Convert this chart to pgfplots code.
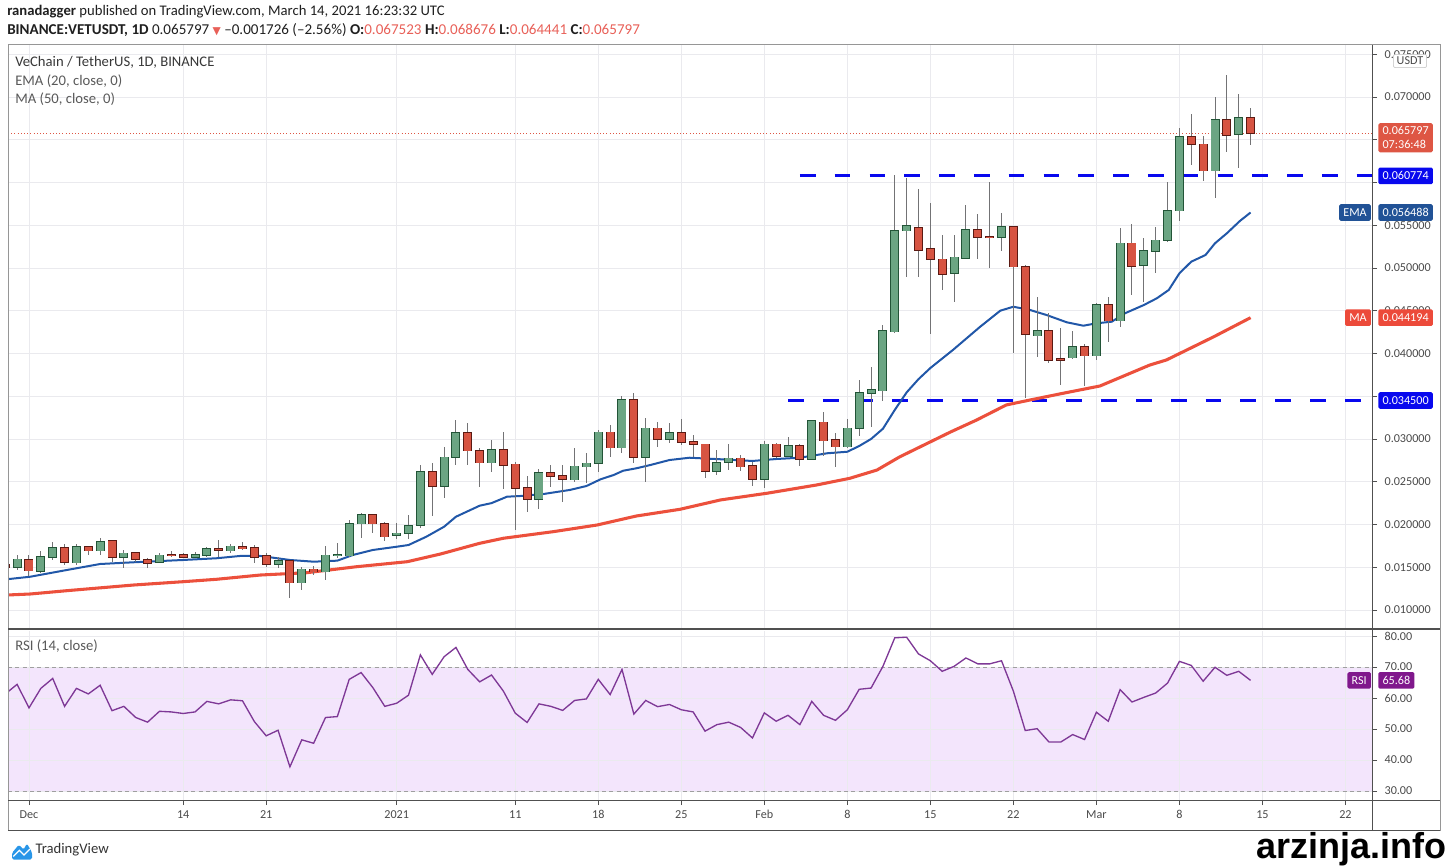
\documentclass[border=0pt]{standalone}
\usepackage{pgfplots}
\pgfplotsset{compat=1.18}
\usepackage{pgfplotstable}
\usepackage{fontspec}
\setmainfont{Carlito}
\newfontfamily\dejavu{DejaVu Sans}
\newfontfamily\wmfont{Liberation Sans}
\definecolor{gfill}{RGB}{107,165,131}
\definecolor{gline}{RGB}{34,84,55}
\definecolor{rfill}{RGB}{215,84,66}
\definecolor{rline}{RGB}{91,26,19}
\definecolor{wick}{RGB}{115,115,117}
\definecolor{emac}{RGB}{33,87,168}
\definecolor{mac}{RGB}{236,80,60}
\definecolor{lvl}{RGB}{8,8,238}
\definecolor{rsic}{RGB}{126,56,150}
\definecolor{rsiband}{RGB}{243,229,252}
\definecolor{gridc}{RGB}{234,234,238}
\definecolor{txt}{RGB}{74,74,74}
\definecolor{hred}{RGB}{232,96,88}
\definecolor{pricebox}{RGB}{222,86,68}
\definecolor{emabox}{RGB}{33,82,150}
\definecolor{mabox}{RGB}{236,74,58}
\definecolor{rsibox}{RGB}{128,24,140}
\definecolor{tvblue}{RGB}{41,150,232}
\definecolor{framec}{RGB}{150,150,150}
\definecolor{darkc}{RGB}{80,80,80}

\pgfplotstableread{
d O H L C
-1 0.01499 0.01643 0.01468 0.01593
1 0.01456 0.01694 0.01429 0.01623
2 0.01616 0.01792 0.01585 0.01722
4 0.01553 0.01772 0.01526 0.01740
6 0.01694 0.01846 0.01643 0.01799
8 0.01623 0.01702 0.01488 0.01663
11 0.01558 0.01663 0.01546 0.01640
14 0.01623 0.01682 0.01605 0.01643
15 0.01640 0.01733 0.01616 0.01713
17 0.01694 0.01768 0.01670 0.01745
21 0.01538 0.01623 0.01488 0.01577
23 0.01319 0.01506 0.01234 0.01476
25 0.01448 0.01749 0.01351 0.01640
26 0.01640 0.01787 0.01605 0.01645
27 0.01635 0.02053 0.01623 0.02009
28 0.02009 0.02131 0.01846 0.02108
31 0.01874 0.02014 0.01827 0.01897
32 0.01897 0.02111 0.01827 0.01986
33 0.01994 0.02696 0.01956 0.02618
35 0.02450 0.02903 0.02306 0.02786
36 0.02786 0.03222 0.02696 0.03074
39 0.02723 0.02988 0.02611 0.02875
43 0.02295 0.02646 0.02178 0.02602
46 0.02524 0.02891 0.02500 0.02681
47 0.02676 0.02833 0.02489 0.02716
48 0.02716 0.03105 0.02618 0.03078
50 0.02898 0.03503 0.02833 0.03456
52 0.02786 0.03249 0.02500 0.03125
54 0.02996 0.03191 0.02950 0.03067
58 0.02626 0.02877 0.02582 0.02725
59 0.02734 0.02938 0.02637 0.02774
62 0.02529 0.02977 0.02423 0.02938
64 0.02801 0.03027 0.02793 0.02918
66 0.02763 0.03222 0.02754 0.03211
69 0.02910 0.03230 0.02891 0.03125
70 0.03125 0.03690 0.03035 0.03535
71 0.03535 0.03846 0.03144 0.03573
72 0.03565 0.04333 0.03448 0.04260
73 0.04255 0.06088 0.04236 0.05436
74 0.05436 0.06049 0.04898 0.05491
78 0.04938 0.05386 0.04606 0.05125
79 0.05120 0.05737 0.05102 0.05444
82 0.05359 0.05640 0.05202 0.05483
85 0.04208 0.04664 0.03963 0.04267
88 0.03951 0.04263 0.03932 0.04073
90 0.03974 0.04590 0.03920 0.04567
92 0.04384 0.05464 0.04306 0.05289
94 0.05035 0.05347 0.04606 0.05199
95 0.05199 0.05483 0.04938 0.05324
96 0.05324 0.06009 0.05308 0.05670
97 0.05670 0.06634 0.05553 0.06536
100 0.06138 0.06996 0.05815 0.06731
102 0.06567 0.07035 0.06173 0.06752
}\greenc

\pgfplotstableread{
d O H L C
-2 0.01526 0.01550 0.01480 0.01503
0 0.01585 0.01643 0.01398 0.01460
3 0.01725 0.01772 0.01526 0.01558
5 0.01740 0.01752 0.01643 0.01694
7 0.01804 0.01819 0.01565 0.01623
9 0.01670 0.01682 0.01565 0.01593
10 0.01588 0.01605 0.01488 0.01550
12 0.01643 0.01694 0.01616 0.01636
13 0.01643 0.01663 0.01612 0.01623
16 0.01717 0.01819 0.01616 0.01702
18 0.01740 0.01799 0.01702 0.01717
19 0.01729 0.01760 0.01546 0.01623
20 0.01632 0.01663 0.01499 0.01538
22 0.01577 0.01585 0.01144 0.01319
24 0.01476 0.01518 0.01409 0.01448
29 0.02108 0.02111 0.01897 0.02009
30 0.02006 0.02033 0.01811 0.01857
34 0.02618 0.02723 0.02099 0.02450
37 0.03074 0.03191 0.02696 0.02863
38 0.02863 0.02891 0.02435 0.02723
40 0.02875 0.03085 0.02412 0.02699
41 0.02704 0.02734 0.01936 0.02430
42 0.02430 0.02567 0.02150 0.02295
44 0.02606 0.02696 0.02435 0.02564
45 0.02567 0.02692 0.02267 0.02529
49 0.03078 0.03164 0.02786 0.02898
51 0.03456 0.03535 0.02723 0.02786
53 0.03125 0.03195 0.02910 0.02996
55 0.03067 0.03234 0.02930 0.02968
56 0.02968 0.03047 0.02793 0.02942
57 0.02938 0.02940 0.02547 0.02626
60 0.02774 0.02813 0.02626 0.02676
61 0.02684 0.02734 0.02450 0.02529
63 0.02938 0.02957 0.02781 0.02801
65 0.02918 0.02942 0.02684 0.02763
67 0.03195 0.03312 0.02801 0.02980
68 0.02988 0.03074 0.02669 0.02910
75 0.05471 0.05920 0.04891 0.05211
76 0.05222 0.05757 0.04228 0.05102
77 0.05102 0.05386 0.04743 0.04926
80 0.05444 0.05628 0.05102 0.05359
81 0.05363 0.06009 0.04996 0.05355
83 0.05483 0.05495 0.04002 0.05015
84 0.05015 0.05035 0.03476 0.04225
86 0.04267 0.04470 0.03885 0.03924
87 0.03939 0.04302 0.03632 0.03924
89 0.04073 0.04111 0.03620 0.03974
91 0.04567 0.04657 0.04138 0.04384
93 0.05289 0.05515 0.04684 0.05023
98 0.06536 0.06801 0.06205 0.06447
99 0.06447 0.06544 0.06021 0.06138
101 0.06731 0.07257 0.06360 0.06556
103 0.067523 0.068676 0.064441 0.065797
}\redc

\pgfplotsset{
  candlewick/.style={draw=none, mark=none, forget plot,
    error bars/y dir=both, error bars/y explicit, error bars/error mark=none,
    error bars/error bar style={line width=0.75pt, draw=wick, line cap=butt}},
  candlebody/.style 2 args={draw=none, mark=none, forget plot,
    error bars/y dir=both, error bars/y explicit, error bars/error mark=none,
    error bars/error bar style={line width=#1, draw=#2, line cap=butt}},
}

\tikzset{box/.style={text=white, font=\fontsize{9.1}{10.5}\selectfont, inner xsep=3.2pt, inner ysep=3pt, rounded corners=1.2pt, text height=6.3pt, text depth=0.2pt}}

\begin{document}
\begin{tikzpicture}
\path (0,0) rectangle (1086pt,650.25pt);

% ---------------- main price panel ----------------
\begin{axis}[
  at={(6pt,179.25pt)}, anchor=south west, scale only axis,
  width=1023pt, height=437.25pt,
  xmin=-1.77, xmax=113.24, ymin=0.007895, ymax=0.076082,
  axis line style={draw=none},
  xtick={0,13,20,31,41,48,55,62,69,76,83,90,97,104,111}, xticklabels={},
  xtick style={draw=none},
  ytick={0.010,0.015,0.020,0.025,0.030,0.035,0.040,0.045,0.050,0.055,0.060,0.065,0.070,0.075},
  yticklabels={0.010000,0.015000,0.020000,0.025000,0.030000,,0.040000,0.045000,0.050000,0.055000,,,0.070000,0.075000},
  scaled y ticks=false,
  yticklabel pos=right, ytick pos=right,
  tick align=outside, major tick length=3.75pt,
  ytick style={draw=darkc, line width=0.6pt},
  grid=major, major grid style={draw=gridc, line width=0.6pt},
  ticklabel style={font=\fontsize{9.1}{11}\selectfont, text=txt},
  yticklabel style={anchor=west, xshift=4.5pt, inner sep=1pt},
]
% current price dotted line
\addplot[pricebox, line width=0.6pt, dash pattern=on 0.8pt off 1.6pt, forget plot] coordinates {(-1.77,0.065797) (113.24,0.065797)};
% support / resistance
\addplot[lvl, line width=2.25pt, dash pattern=on 11.8pt off 14.3pt, forget plot] coordinates {(65,0.060774) (113.3,0.060774)};
\addplot[lvl, line width=2.25pt, dash pattern=on 11.8pt off 14.3pt, forget plot] coordinates {(64,0.0345) (113.3,0.0345)};
% MA 50
\addplot[mac, line width=2.3pt, forget plot] coordinates {
(-1.9,0.01175) (0.1,0.01187) (3.2,0.01226) (8.8,0.01292) (13,0.01331) (15.8,0.01359) (19.5,0.01409) (23.4,0.01436) (27.6,0.01506) (31.9,0.01565) (34.7,0.01655) (38,0.01780) (40,0.01839) (44.2,0.01916) (47.9,0.01994) (51.2,0.02099) (54.9,0.02178) (58.3,0.02287) (62.2,0.02365) (66.4,0.02462) (69.2,0.02540) (71.5,0.02637) (73.4,0.02790) (77.7,0.03082) (79.9,0.03222) (82.4,0.03398) (84.4,0.03456) (87.2,0.03535) (90.3,0.03620) (94.5,0.03865) (95.9,0.03924) (99.9,0.04196) (103,0.04419)};
% EMA 20
\addplot[emac, line width=1.5pt, forget plot] coordinates {
(-1.9,0.01359) (0.1,0.01389) (3.2,0.01468) (6,0.01538) (8.8,0.01558) (13,0.01585) (15.8,0.01605) (17.8,0.01632) (19.5,0.01632) (22,0.01585) (24,0.01565) (26,0.01577) (27.3,0.01643) (29,0.01702) (31,0.01740) (32,0.01760) (33.5,0.01857) (35,0.01974) (36,0.02091) (38,0.02220) (39,0.02250) (40.3,0.02325) (41.4,0.02333) (43.4,0.02357) (45.6,0.02404) (47,0.02450) (48.2,0.02529) (49.3,0.02579) (50.1,0.02629) (51.2,0.02657) (52.4,0.02696) (54,0.02754) (55.7,0.02781) (58.3,0.02763) (61,0.02743) (63,0.02766) (65,0.02781) (67.3,0.02833) (69,0.02851) (70,0.02918) (71,0.03000) (72,0.03120) (73,0.03340) (74,0.03545) (75,0.03700) (76,0.03830) (77.9,0.04041) (80.2,0.04313) (81.9,0.04501) (83,0.04547) (84.4,0.04509) (85.8,0.04450) (87.5,0.04365) (88.9,0.04325) (90,0.04353) (91.3,0.04372) (92.4,0.04470) (94,0.04567) (95.1,0.04646) (96.1,0.04743) (97,0.04938) (98,0.05074) (99.2,0.05152) (100,0.05289) (101,0.05406) (102.1,0.05550) (103,0.05649)};
% candles: wicks
\addplot[candlewick] table[x=d, y expr={0.5*(\thisrow{H}+\thisrow{L})}, y error expr={0.5*(\thisrow{H}-\thisrow{L})}] {\greenc};
\addplot[candlewick] table[x=d, y expr={0.5*(\thisrow{H}+\thisrow{L})}, y error expr={0.5*(\thisrow{H}-\thisrow{L})}] {\redc};
% bodies
\addplot[candlebody={6.75pt}{gline}] table[x=d, y expr={0.5*(\thisrow{O}+\thisrow{C})}, y error expr={0.5*abs(\thisrow{C}-\thisrow{O})+0.00009}] {\greenc};
\addplot[candlebody={5.3pt}{gfill}] table[x=d, y expr={0.5*(\thisrow{O}+\thisrow{C})}, y error expr={0.5*abs(\thisrow{C}-\thisrow{O})}] {\greenc};
\addplot[candlebody={6.75pt}{rline}] table[x=d, y expr={0.5*(\thisrow{O}+\thisrow{C})}, y error expr={0.5*abs(\thisrow{C}-\thisrow{O})+0.00009}] {\redc};
\addplot[candlebody={5.3pt}{rfill}] table[x=d, y expr={0.5*(\thisrow{O}+\thisrow{C})}, y error expr={0.5*abs(\thisrow{C}-\thisrow{O})}] {\redc};
\coordinate (cP) at (axis cs:113.24,0.065797);
\coordinate (cR1) at (axis cs:113.24,0.060774);
\coordinate (cE) at (axis cs:113.24,0.056488);
\coordinate (cM) at (axis cs:113.24,0.044194);
\coordinate (cR2) at (axis cs:113.24,0.0345);
\end{axis}

% ---------------- RSI panel ----------------
\begin{axis}[
  at={(6pt,50.25pt)}, anchor=south west, scale only axis,
  width=1023pt, height=126.75pt,
  xmin=-1.77, xmax=113.24, ymin=27.1, ymax=81.6,
  set layers,
  axis line style={draw=none},
  xtick={0,13,20,31,41,48,55,62,69,76,83,90,97,104,111},
  xticklabels={Dec,14,21,2021,11,18,25,Feb,8,15,22,Mar,8,15,22},
  xtick pos=bottom,
  ytick={30,40,50,60,70,80},
  yticklabels={30.00,40.00,50.00,60.00,70.00,80.00},
  yticklabel pos=right, ytick pos=right,
  tick align=outside, major tick length=3.75pt,
  tick style={draw=darkc, line width=0.6pt},
  grid=major, major grid style={draw=gridc, line width=0.6pt},
  ticklabel style={font=\fontsize{9.1}{11}\selectfont, text=txt},
  yticklabel style={anchor=west, xshift=4.5pt, inner sep=1pt},
  xticklabel style={anchor=center, yshift=-7pt},
]
\addplot[fill=rsiband, draw=none, on layer=axis background, forget plot] coordinates {(-1.77,30) (113.24,30) (113.24,70) (-1.77,70)} -- cycle;
\addplot[draw=gray!75, line width=0.6pt, dash pattern=on 3pt off 2.5pt, forget plot] coordinates {(-1.77,70) (113.24,70)};
\addplot[draw=gray!75, line width=0.6pt, dash pattern=on 3pt off 2.5pt, forget plot] coordinates {(-1.77,30) (113.24,30)};
\addplot[rsic, line width=1.0pt, forget plot] coordinates {
(-2,61.3) (-1,64.4) (0,56.8) (1,63.1) (2,66.3) (3,57.3) (4,63.1) (5,61.3) (6,64.1) (7,55.9) (8,57.3) (9,53.7) (10,52.2) (11,55.7) (12,55.5) (13,55.0) (14,55.5) (15,58.9) (16,58.1) (17,59.4) (18,59.1) (19,52.4) (20,47.8) (21,49.6) (22,37.8) (23,46.5) (24,45.4) (25,53.7) (26,54.0) (27,66.0) (28,68.2) (29,63.3) (30,57.3) (31,58.3) (32,60.9) (33,73.9) (34,67.6) (35,73.3) (36,76.3) (37,69.2) (38,65.2) (39,67.4) (40,62.2) (41,55.1) (42,52.1) (43,58.1) (44,57.3) (45,56.0) (46,59.2) (47,59.7) (48,66.0) (49,61.1) (50,69.2) (51,54.8) (52,59.2) (53,57.2) (54,57.9) (55,56.2) (56,55.5) (57,49.3) (58,51.4) (59,52.2) (60,50.5) (61,47.1) (62,55.2) (63,52.5) (64,54.4) (65,51.4) (66,58.9) (67,54.4) (68,52.8) (69,56.2) (70,62.8) (71,63.2) (72,70.2) (73,79.4) (74,79.6) (75,74.2) (76,72.0) (77,68.6) (78,70.2) (79,72.9) (80,71.0) (81,71.0) (82,72.0) (83,62.2) (84,49.5) (85,50.1) (86,45.8) (87,45.8) (88,48.2) (89,46.6) (90,55.4) (91,52.5) (92,62.7) (93,58.7) (94,60.2) (95,61.6) (96,64.8) (97,71.8) (98,70.5) (99,65.4) (100,69.9) (101,67.3) (102,68.6) (103,65.68)};
\coordinate (cRSI) at (axis cs:113.24,65.68);
\end{axis}

% ---------------- frame ----------------
\draw[framec, line width=0.75pt] (6pt,27.75pt) rectangle (1080pt,616.5pt);
\draw[darkc, line width=0.75pt] (1029pt,27.75pt) -- (1029pt,616.5pt);
\draw[darkc, line width=1.3pt] (6pt,178.3pt) -- (1080pt,178.3pt);
\draw[darkc, line width=0.75pt] (6pt,50.25pt) -- (1080pt,50.25pt);
\draw[darkc, line width=0.75pt] (6pt,27.75pt) -- (1080pt,27.75pt);

% ---------------- right labels ----------------
\node[draw=gray!50, fill=white, text=txt, rounded corners=1.5pt, inner xsep=2.5pt, inner ysep=2pt, font=\fontsize{9.1}{10.5}\selectfont] at (1057.5pt,604.5pt) {USDT};
\node[fill=pricebox, text=white, anchor=north west, align=left, inner xsep=3.2pt, inner ysep=2.5pt, rounded corners=1.2pt, font=\fontsize{9.1}{10.6}\selectfont] at ([xshift=4.5pt,yshift=7.5pt]cP) {0.065797\\07:36:48};
\node[box, fill=lvl, anchor=west] at ([xshift=4.5pt]cR1) {0.060774};
\node[box, fill=emabox, anchor=west] at ([xshift=4.5pt]cE) {0.056488};
\node[box, fill=emabox, anchor=east] at ([xshift=-0.6pt]cE) {EMA};
\node[box, fill=mabox, anchor=west] at ([xshift=4.5pt]cM) {0.044194};
\node[box, fill=mabox, anchor=east] at ([xshift=-0.6pt]cM) {MA};
\node[box, fill=lvl, anchor=west] at ([xshift=4.5pt]cR2) {0.034500};
\node[box, fill=rsibox, anchor=west] at ([xshift=4.5pt]cRSI) {65.68};
\node[box, fill=rsibox, anchor=east] at ([xshift=-0.6pt]cRSI) {RSI};

% ---------------- legends ----------------
\node[anchor=west, inner sep=0pt, text=black!78, font=\fontsize{11}{13}\selectfont] at (11.25pt,603.75pt) {VeChain / TetherUS, 1D, BINANCE};
\node[anchor=west, inner sep=0pt, text=black!65, font=\fontsize{11}{13}\selectfont] at (11.25pt,589.5pt) {EMA (20, close, 0)};
\node[anchor=west, inner sep=0pt, text=black!65, font=\fontsize{11}{13}\selectfont] at (11.25pt,575.7pt) {MA (50, close, 0)};
\node[anchor=west, inner sep=0pt, text=black!65, font=\fontsize{11}{13}\selectfont] at (11.25pt,165.75pt) {RSI (14, close)};

% ---------------- header ----------------
\node[anchor=base west, inner sep=0pt, text=black!88, font=\fontsize{11}{13}\selectfont] at (5.25pt,638.3pt) {\textbf{ranadagger} published on TradingView.com, March 14, 2021 16:23:32 UTC};
\node[anchor=base west, inner sep=0pt, text=black!88, font=\fontsize{11.3}{13}\selectfont] at (5.25pt,624.5pt) {\textbf{BINANCE:VETUSDT, 1D} 0.065797 {\color{hred}\dejavu\fontsize{8}{10}\selectfont ▼} –0.001726 (–2.56\%) \textbf{O:}{\color{hred}0.067523} \textbf{H:}{\color{hred}0.068676} \textbf{L:}{\color{hred}0.064441} \textbf{C:}{\color{hred}0.065797}};

% ---------------- footer ----------------
\fill[tvblue, rounded corners=1.2pt] (9pt,5.6pt) -- (9pt,10.5pt) -- (14.2pt,16.8pt) -- (17.6pt,13pt) -- (20.2pt,17.6pt) -- (24pt,11pt) -- (24pt,5.6pt) -- cycle;
\draw[white, line width=0.9pt] (10pt,8pt) -- (14.5pt,12.5pt) -- (18pt,9pt) -- (22.5pt,13.5pt);
\node[anchor=west, inner sep=0pt, text=black!80, font=\fontsize{11}{13}\selectfont] at (26.5pt,13.3pt) {TradingView};
\node[anchor=base east, inner sep=0pt, text=black, font=\wmfont\bfseries\fontsize{27}{30}\selectfont] at (1085pt,6.2pt) {arzinja.info};
\end{tikzpicture}
\end{document}
